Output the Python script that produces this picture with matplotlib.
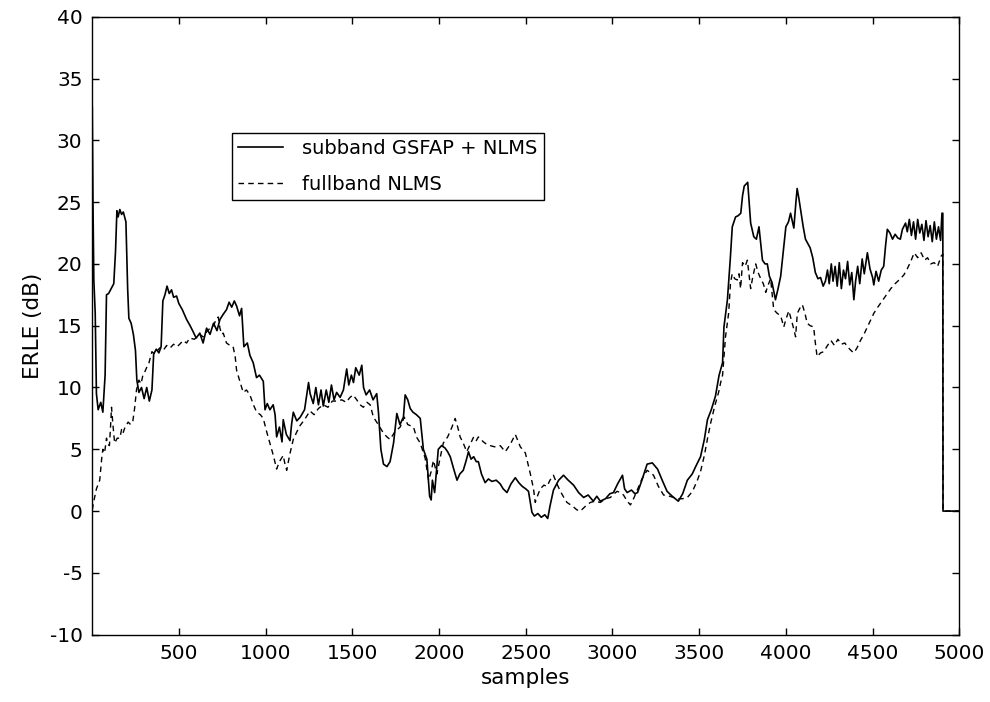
import numpy as np
import matplotlib
matplotlib.use("Agg")
import matplotlib.pyplot as plt

# ERLE curves (sample index, dB)
sub_x = [1, 5, 10, 18, 25, 35, 50, 62, 75, 83, 95, 110, 125, 135, 143, 150, 160, 170, 180, 195,
         205, 212, 225, 238, 250, 258, 270, 285, 300, 315, 330, 345, 355, 370, 385, 398, 408, 420,
         432, 445, 458, 470, 487, 500, 520, 545, 565, 583, 600, 621, 640, 660, 680, 700, 720, 737,
         755, 775, 790, 805, 820, 833, 850, 862, 875, 895, 910, 929, 948, 965, 987, 997, 1010, 1025,
         1044, 1055, 1064, 1080, 1095, 1102, 1120, 1141, 1150, 1160, 1180, 1200, 1225, 1248, 1257,
         1275, 1290, 1305, 1320, 1333, 1350, 1365, 1380, 1395, 1410, 1430, 1449, 1468, 1480, 1495,
         1507, 1520, 1540, 1555, 1565, 1580, 1600, 1620, 1641, 1651, 1665, 1680, 1700, 1718, 1738,
         1757, 1775, 1795, 1805, 1820, 1834, 1850, 1870, 1892, 1910, 1930, 1946, 1955, 1962, 1975,
         1996, 2015, 2035, 2050, 2065, 2085, 2104, 2120, 2140, 2155, 2170, 2185, 2200, 2215, 2227,
         2245, 2266, 2285, 2305, 2330, 2353, 2370, 2392, 2415, 2440, 2460, 2480, 2500, 2516, 2536,
         2550, 2570, 2590, 2610, 2627, 2640, 2660, 2690, 2718, 2745, 2776, 2805, 2834, 2860, 2890,
         2910, 2930, 2960, 2985, 3006, 3030, 3058, 3070, 3085, 3110, 3130, 3145, 3170, 3200, 3230,
         3260, 3290, 3315, 3345, 3380, 3405, 3432, 3460, 3480, 3508, 3530, 3548, 3570, 3594, 3615,
         3635, 3643, 3663, 3680, 3691, 3710, 3725, 3740, 3750, 3760, 3780, 3797, 3815, 3830, 3845,
         3865, 3880, 3893, 3905, 3920, 3940, 3955, 3970, 3985, 4000, 4015, 4027, 4046, 4058, 4065,
         4075, 4085, 4100, 4113, 4140, 4155, 4170, 4185, 4200, 4215, 4228, 4240, 4250, 4262, 4272,
         4284, 4296, 4308, 4320, 4332, 4344, 4356, 4368, 4380, 4392, 4402, 4414, 4426, 4440, 4452,
         4470, 4485, 4500, 4507, 4520, 4535, 4550, 4564, 4575, 4585, 4600, 4615, 4630, 4645, 4660,
         4672, 4690, 4700, 4712, 4724, 4736, 4748, 4760, 4772, 4784, 4796, 4808, 4820, 4832, 4844,
         4856, 4868, 4880, 4892, 4900, 4905, 4906, 5000]
sub_y = [32.7, 25, 18.7, 16, 9.5, 8.2, 8.8, 8.0, 11, 17.5, 17.6, 18.0, 18.4, 21, 24.3, 23.8, 24.4,
         24.0, 24.2, 23.4, 18, 15.6, 15.2, 14.3, 13, 10.6, 9.6, 10.0, 9.1, 10.0, 8.9, 9.8, 12.7, 13.1,
         12.8, 13.3, 17.0, 17.5, 18.2, 17.6, 17.9, 17.3, 17.4, 16.8, 16.3, 15.5, 15.0, 14.5, 14.0,
         14.4, 13.6, 14.8, 14.3, 15.2, 14.6, 15.5, 15.9, 16.3, 16.9, 16.5, 17.0, 16.6, 15.8, 16.4,
         13.3, 13.6, 12.6, 12.0, 10.8, 11.0, 10.5, 8.2, 8.7, 8.2, 8.6, 7.8, 6.0, 6.8, 5.6, 7.4, 6.2,
         5.7, 7.0, 8.0, 7.3, 7.6, 8.2, 10.4, 9.5, 8.7, 10.0, 8.6, 9.8, 8.5, 9.8, 8.8, 10.2, 9.0, 9.6,
         9.2, 9.8, 11.5, 10.2, 11.0, 10.4, 11.6, 11.0, 11.8, 10.0, 9.4, 9.8, 9.0, 9.5, 8.0, 5.0, 3.8,
         3.6, 4.0, 5.5, 7.9, 7.0, 7.6, 9.4, 9.0, 8.3, 8.0, 7.8, 7.5, 5.0, 4.2, 1.2, 0.9, 2.5, 1.5, 5.0,
         5.3, 5.1, 4.8, 4.4, 3.4, 2.5, 3.0, 3.3, 4.0, 4.8, 4.2, 4.4, 4.0, 4.0, 3.0, 2.3, 2.6, 2.4, 2.5,
         2.2, 1.8, 1.5, 2.2, 2.7, 2.3, 2.0, 1.8, 1.6, -0.1, -0.4, -0.2, -0.5, -0.3, -0.6, 0.4, 1.7,
         2.5, 2.9, 2.5, 2.1, 1.5, 1.1, 1.3, 0.8, 1.2, 0.8, 1.0, 1.4, 1.5, 2.2, 2.9, 1.8, 1.5, 1.7,
         1.4, 1.5, 2.5, 3.8, 3.9, 3.4, 2.4, 1.6, 1.2, 0.8, 1.4, 2.5, 3.0, 3.6, 4.4, 5.8, 7.4, 8.2,
         9.3, 11.0, 12.0, 14.9, 17.1, 20.5, 23.0, 23.8, 23.9, 24.1, 25.5, 26.3, 26.6, 23.3, 22.2,
         22.0, 23.0, 20.3, 20.0, 20.0, 19.0, 18.5, 17.1, 18.0, 19.0, 21.0, 23.0, 23.4, 24.1, 22.9,
         25.0, 26.1, 25.3, 24.4, 23.0, 22.0, 21.3, 20.5, 19.3, 18.8, 18.9, 18.2, 18.6, 19.5, 18.4,
         20.0, 18.6, 19.8, 18.2, 20.1, 18.0, 19.5, 18.8, 20.2, 18.3, 19.3, 17.1, 18.6, 19.8, 18.4,
         20.4, 19.2, 20.9, 19.6, 18.9, 18.3, 19.4, 18.6, 19.5, 19.8, 21.5, 22.8, 22.5, 22.0, 22.4,
         22.1, 22.0, 22.8, 23.3, 22.6, 23.6, 22.3, 23.4, 22.0, 23.6, 22.5, 23.2, 21.9, 23.5, 22.2,
         23.1, 21.8, 23.4, 22.0, 23.0, 21.9, 24.1, 24.1, 0, 0]

full_x = [1, 10, 25, 44, 55, 62, 72, 83, 92, 100, 107, 112, 120, 130, 145, 160, 170, 178, 190, 208,
          222, 235, 245, 256, 270, 282, 293, 305, 314, 328, 345, 360, 372, 390, 410, 430, 450, 470,
          490, 505, 525, 545, 563, 590, 621, 640, 660, 680, 700, 718, 728, 737, 748, 756, 775, 795,
          813, 825, 833, 850, 871, 890, 910, 930, 949, 970, 987, 1005, 1025, 1045, 1064, 1080, 1102,
          1112, 1122, 1140, 1160, 1180, 1198, 1225, 1256, 1280, 1305, 1333, 1360, 1385, 1410, 1440,
          1465, 1487, 1505, 1526, 1545, 1564, 1585, 1603, 1622, 1650, 1680, 1700, 1718, 1745, 1776,
          1800, 1820, 1853, 1870, 1892, 1920, 1940, 1955, 1968, 1988, 2005, 2025, 2050, 2075, 2093,
          2108, 2122, 2140, 2160, 2180, 2200, 2215, 2227, 2256, 2275, 2295, 2320, 2353, 2382, 2411,
          2440, 2469, 2498, 2527, 2545, 2555, 2570, 2584, 2605, 2623, 2640, 2660, 2680, 2700, 2720,
          2738, 2770, 2795, 2815, 2845, 2873, 2900, 2930, 2960, 2988, 3010, 3027, 3045, 3064, 3085,
          3104, 3125, 3143, 3170, 3200, 3220, 3237, 3265, 3295, 3330, 3375, 3405, 3432, 3450, 3468,
          3490, 3508, 3530, 3550, 3566, 3590, 3612, 3624, 3635, 3652, 3670, 3681, 3691, 3705, 3720,
          3730, 3739, 3750, 3765, 3778, 3797, 3810, 3826, 3840, 3855, 3870, 3884, 3898, 3912, 3930,
          3950, 3970, 3988, 4000, 4017, 4035, 4048, 4056, 4066, 4080, 4095, 4110, 4123, 4140, 4160,
          4170, 4180, 4200, 4218, 4240, 4260, 4280, 4300, 4320, 4340, 4355, 4375, 4392, 4410, 4430,
          4450, 4470, 4490, 4507, 4530, 4560, 4585, 4605, 4630, 4660, 4680, 4700, 4720, 4740, 4760,
          4780, 4800, 4817, 4835, 4855, 4875, 4894, 4905, 4906, 5000]
full_y = [0.1, 0.8, 1.8, 2.5, 4.2, 5.0, 4.7, 5.9, 5.4, 5.3, 7.0, 8.4, 7.0, 5.5, 5.9, 5.9, 6.6, 6.3,
          6.8, 7.2, 7.0, 7.3, 8.3, 9.8, 10.6, 10.3, 11.0, 11.3, 11.6, 12.0, 12.9, 12.7, 12.9, 13.2,
          13.0, 13.4, 13.2, 13.5, 13.3, 13.5, 13.8, 13.6, 14.0, 13.9, 14.3, 14.1, 14.5, 14.8, 15.0,
          15.6, 15.7, 14.8, 14.3, 14.4, 13.6, 13.4, 13.3, 12.5, 11.4, 10.6, 9.6, 9.8, 9.4, 8.6, 8.0,
          7.8, 7.5, 6.5, 5.5, 4.5, 3.4, 4.0, 4.5, 3.8, 3.3, 4.6, 5.8, 6.4, 6.9, 7.4, 8.1, 7.8, 8.3,
          8.6, 8.4, 8.9, 8.9, 9.0, 8.8, 9.2, 9.4, 9.0, 8.6, 8.4, 8.8, 8.6, 7.6, 7.0, 6.3, 6.0, 5.8,
          6.4, 6.8, 7.6, 7.0, 6.8, 6.0, 5.5, 4.3, 2.5, 3.2, 4.1, 3.0, 4.2, 5.5, 6.0, 6.8, 7.5, 6.8,
          6.0, 5.5, 4.8, 5.4, 6.0, 5.7, 6.0, 5.6, 5.4, 5.3, 5.2, 5.3, 4.8, 5.4, 6.2, 5.2, 4.7, 3.0,
          1.8, 0.7, 1.3, 1.8, 2.1, 2.0, 2.5, 2.9, 2.2, 1.6, 1.1, 0.7, 0.4, 0.1, 0.0, 0.4, 0.7, 0.8,
          0.7, 1.0, 1.1, 1.4, 1.6, 1.5, 1.3, 0.8, 0.5, 1.1, 1.7, 2.6, 3.3, 3.1, 2.9, 2.0, 1.3, 1.2,
          1.0, 1.0, 1.1, 1.4, 1.8, 2.5, 3.2, 4.5, 6.0, 7.1, 8.5, 9.6, 10.4, 11.0, 14.1, 16.0, 18.5,
          19.2, 18.8, 18.7, 19.2, 18.0, 20.1, 19.8, 20.3, 18.0, 19.0, 20.0, 19.3, 18.8, 18.4, 17.7,
          18.3, 18.8, 16.3, 16.0, 15.8, 14.9, 15.5, 16.2, 15.3, 14.6, 14.1, 16.0, 16.4, 16.7, 16.0,
          15.2, 15.0, 14.9, 13.6, 12.5, 12.8, 12.9, 13.4, 13.8, 13.4, 13.9, 13.5, 13.6, 13.3, 13.0,
          12.8, 13.2, 13.8, 14.3, 14.9, 15.5, 16.0, 16.5, 17.1, 17.6, 18.0, 18.4, 18.8, 19.1, 19.6,
          20.2, 20.9, 20.5, 20.9, 20.3, 20.5, 20.0, 20.1, 19.8, 20.6, 20.8, 0, 0]

x_ticks = [500, 1000, 1500, 2000, 2500, 3000, 3500, 4000, 4500, 5000]
y_ticks = [-10, -5, 0, 5, 10, 15, 20, 25, 30, 35, 40]

plt.rcParams['font.family'] = ['DejaVu Sans']
plt.rcParams['axes.unicode_minus'] = False

fig = plt.figure(figsize=(9.9, 7.02), dpi=100)
ax = fig.add_axes([0.0932, 0.0959, 0.8758, 0.8803])

ax.plot(sub_x, sub_y, color='black', lw=1.2, label='subband GSFAP + NLMS')
ax.plot(full_x, full_y, color='black', lw=1.0, linestyle=(0, (4, 3)), label='fullband NLMS')

ax.set_xlim(1, 5000)
ax.set_ylim(-10, 40)
ax.set_xticks(x_ticks)
ax.set_yticks(y_ticks)
ax.tick_params(direction='in', length=5, width=1, top=True, right=True, pad=7, labelsize=14.5)
for s in ax.spines.values():
    s.set_linewidth(1.0)

ax.set_xlabel('samples', fontsize=15.5, labelpad=3)
ax.set_ylabel('ERLE (dB)', fontsize=15.5, labelpad=5)

leg = ax.legend(loc='upper left', bbox_to_anchor=(0.161, 0.812), borderaxespad=0,
                fontsize=14, fancybox=False, edgecolor='black', framealpha=1, handlelength=2.3,
                labelspacing=0.85, borderpad=0.33, handletextpad=1.0)
leg.get_frame().set_linewidth(1.0)

fig.savefig('out.png', dpi=100)
